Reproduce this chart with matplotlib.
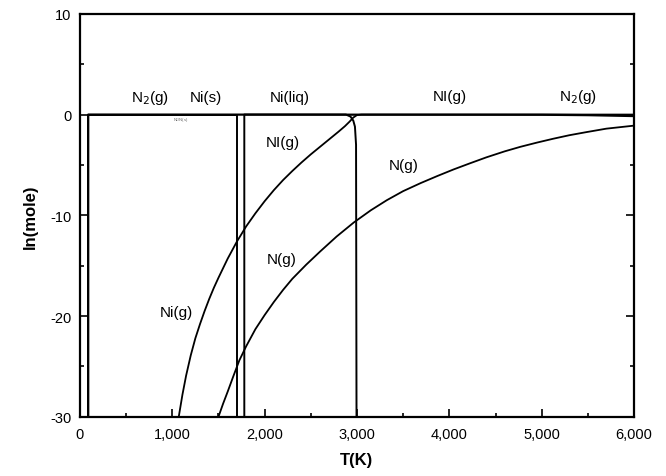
import matplotlib
matplotlib.use("Agg")
import matplotlib.pyplot as plt
from matplotlib.ticker import MultipleLocator, FuncFormatter

plt.rcParams["font.family"] = ["Liberation Sans", "DejaVu Sans"]
plt.rcParams["axes.unicode_minus"] = False

# --- data (T in K, ln(mole)) ---
T_n2 = [90, 90, 5000, 5500, 6000]
ln_n2 = [-30, 0, -0.02, -0.06, -0.15]

T_ni_s = [90, 90, 1697, 1697]
ln_ni_s = [-30, 0, 0, -30]

T_ni_liq = [1780, 1780, 2880, 2930, 2960, 2978, 2990, 2995]
ln_ni_liq = [-30, 0, 0, -0.2, -0.6, -1.2, -3.0, -30]

T_ni_g = [1070, 1110, 1150, 1200, 1250, 1300, 1350, 1400, 1450, 1500,
          1600, 1700, 1800, 1900, 2000, 2100, 2200, 2300, 2400, 2500,
          2600, 2700, 2800, 2870, 2920, 2960, 3000, 3050, 6000]
ln_ni_g = [-30, -27.8, -25.9, -23.9, -22.2, -20.8, -19.5, -18.3, -17.2, -16.2,
           -14.3, -12.6, -11.1, -9.8, -8.6, -7.5, -6.5, -5.6, -4.75, -3.95,
           -3.2, -2.45, -1.7, -1.15, -0.7, -0.3, -0.05, 0, 0]

T_n_g = [1500, 1550, 1600, 1660, 1726, 1800, 1900, 2000, 2100, 2200,
         2300, 2450, 2600, 2780, 2967, 3150, 3323, 3500, 3690, 3870,
         4045, 4220, 4400, 4600, 4770, 4950, 5125, 5300, 5480, 5700, 6000]
ln_n_g = [-30, -28.7, -27.5, -26.0, -24.4, -23.0, -21.3, -19.9, -18.6, -17.4,
          -16.3, -14.9, -13.6, -12.1, -10.7, -9.5, -8.5, -7.6, -6.8, -6.1,
          -5.45, -4.85, -4.25, -3.65, -3.2, -2.78, -2.4, -2.05, -1.75, -1.4, -1.1]

fig = plt.figure(figsize=(6.66, 4.77), dpi=100)
ax = fig.add_axes([0.12, 0.124, 0.832, 0.845])

ax.plot(T_n2, ln_n2, color="black", lw=1.6)
ax.plot(T_ni_s, ln_ni_s, color="black", lw=1.4)
ax.plot(T_ni_liq, ln_ni_liq, color="black", lw=1.4)
ax.plot(T_ni_g, ln_ni_g, color="black", lw=1.3)
ax.plot(T_n_g, ln_n_g, color="black", lw=1.3)

# species labels
lab = dict(fontsize=11, ha="center", va="center")
ax.text(755, 1.7, "N$_2$(g)", **lab)
ax.text(1360, 1.7, "Ni(s)", **lab)
ax.text(2270, 1.7, "Ni(liq)", **lab)
ax.text(4000, 1.8, "NI(g)", **lab)
ax.text(5390, 1.8, "N$_2$(g)", **lab)
ax.text(2200, -2.7, "NI(g)", **lab)
ax.text(3510, -5.0, "N(g)", **lab)
ax.text(2190, -14.3, "N(g)", **lab)
ax.text(1040, -19.6, "Ni(g)", **lab)
ax.text(1090, -0.4, "Ni$_3$N(s)", fontsize=3, ha="center", va="center", color="0.4")

ax.set_xlim(0, 6000)
ax.set_ylim(-30, 10)
ax.xaxis.set_major_locator(MultipleLocator(1000))
ax.xaxis.set_minor_locator(MultipleLocator(500))
ax.yaxis.set_major_locator(MultipleLocator(10))
ax.yaxis.set_minor_locator(MultipleLocator(5))
ax.xaxis.set_major_formatter(FuncFormatter(lambda v, p: f"{int(v):,}"))
ax.tick_params(which="both", direction="in", top=False, right=True,
               labelsize=10.5, width=1.2)
ax.tick_params(axis="x", which="major", pad=7)
ax.tick_params(axis="y", which="major", pad=6)
ax.tick_params(which="major", length=6)
ax.tick_params(which="minor", length=3)
for s in ax.spines.values():
    s.set_linewidth(1.6)

ax.set_xlabel("T(K)", fontsize=12, fontweight="bold", labelpad=8)
ax.set_ylabel("ln(mole)", fontsize=12, fontweight="bold", labelpad=9)

fig.savefig("out.png", dpi=100)
